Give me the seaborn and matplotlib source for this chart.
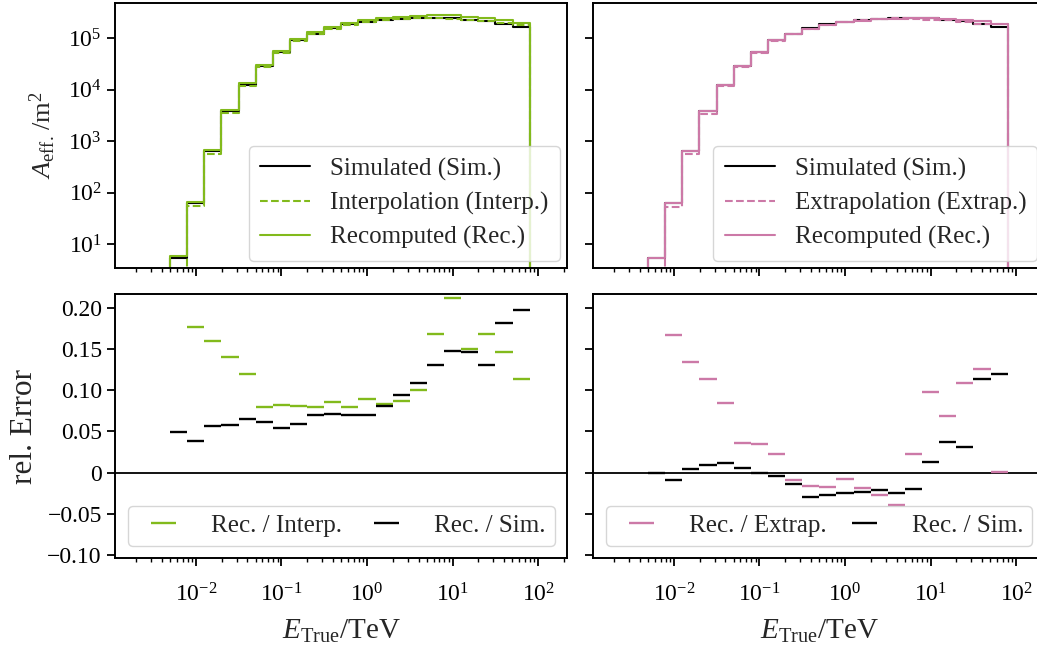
import numpy as np
import matplotlib
matplotlib.use("Agg")
import matplotlib.pyplot as plt
from matplotlib.lines import Line2D
from matplotlib.ticker import LogLocator, NullLocator, NullFormatter, FixedLocator, FixedFormatter
import seaborn as sns

# ---------------------------------------------------------------------------
# Binning in true energy (TeV), five bins per decade
# ---------------------------------------------------------------------------
log_e_min, log_e_max, n_bins = -2.3, 1.9, 21
edges = np.logspace(log_e_min, log_e_max, n_bins + 1)

# ---------------------------------------------------------------------------
# Effective area per bin (m^2)
# ---------------------------------------------------------------------------
aeff_sim = [5.53, 63.6, 635, 3812, 12490, 28460, 54440, 91550, 122500, 156900,
            187000, 212100, 226800, 240500, 245300, 251200, 247600, 229500,
            222000, 192100, 167100]
aeff_interp = [np.nan, 56.1, 579, 3535, 11875, 27960, 53075, 89640, 121400,
               154800, 185300, 208500, 226300, 242000, 247100, 243200, 234300,
               228700, 214900, 198100, 179600]
aeff_rec_interp = [5.8, 66, 671, 4030, 13300, 30200, 57400, 96900, 131000,
                   168000, 200000, 227000, 245000, 263000, 272000, 284000,
                   284000, 263000, 251000, 227000, 200000]
aeff_extrap = [np.nan, 54.05, 562.6, 3456, 11656, 27635, 52590, 89180, 121860,
               154840, 185215, 208360, 225760, 241810, 249260, 240730, 228320,
               222630, 206480, 190020, 186820]
aeff_rec_extrap = [5.53, 63.06, 638, 3847, 12640, 28610, 54420, 91170, 120760,
                   152320, 181900, 206840, 221450, 235330, 239340, 246100,
                   250720, 237970, 228840, 213850, 187040]

# ---------------------------------------------------------------------------
# Relative errors per bin
# ---------------------------------------------------------------------------
err_rec_interp = [np.nan, 0.177, 0.159, 0.140, 0.120, 0.080, 0.0815, 0.081,
                  0.079, 0.085, 0.0795, 0.0888, 0.0827, 0.0868, 0.1006, 0.168,
                  0.212, 0.150, 0.168, 0.146, 0.1136]
err_rec_sim_interp = [0.0487, 0.038, 0.0564, 0.0572, 0.0649, 0.0612, 0.0543,
                      0.0584, 0.0694, 0.071, 0.0694, 0.0701, 0.0803, 0.0937,
                      0.109, 0.1306, 0.147, 0.146, 0.1306, 0.1817, 0.1967]
err_rec_extrap = [np.nan, 0.1667, 0.134, 0.113, 0.0844, 0.0353, 0.0348, 0.0223,
                  -0.009, -0.0163, -0.0179, -0.0073, -0.0191, -0.0268, -0.0398,
                  0.0223, 0.0981, 0.0689, 0.1083, 0.1254, 0.0012]
err_rec_sim_extrap = [0.0, -0.0085, 0.0049, 0.0093, 0.0122, 0.0053, -0.0004,
                      -0.0041, -0.0142, -0.0292, -0.0272, -0.0248, -0.0236,
                      -0.0215, -0.0243, -0.0203, 0.0126, 0.0369, 0.0308, 0.1132,
                      0.1193]

err_ticks = [-0.10, -0.05, 0.0, 0.05, 0.10, 0.15, 0.20]
err_tick_labels = ["\u22120.10", "\u22120.05", "0", "0.05", "0.10", "0.15", "0.20"]

GREEN = "#82ba1c"
PINK = "#cc79a7"
BLACK = "black"

# ---------------------------------------------------------------------------
# Style
# ---------------------------------------------------------------------------
sns.set_theme(style="ticks")
plt.rcParams.update({
    "font.family": ["Liberation Serif", "DejaVu Serif"],
    "mathtext.fontset": "custom",
    "mathtext.rm": "Liberation Serif",
    "mathtext.it": "Liberation Serif:italic",
    "mathtext.bf": "Liberation Serif:bold",
    "axes.edgecolor": "black",
    "axes.linewidth": 1.4,
    "xtick.color": "black",
    "ytick.color": "black",
    "xtick.major.width": 1.3,
    "ytick.major.width": 1.3,
    "xtick.minor.width": 1.0,
    "xtick.major.size": 6,
    "ytick.major.size": 6,
    "xtick.minor.size": 3.2,
    "xtick.labelsize": 17,
    "ytick.labelsize": 17,
    "axes.labelsize": 21,
    "legend.fontsize": 18,
})

fig = plt.figure(figsize=(10.37, 6.46), dpi=100)
W, H = 1037.0, 646.0


def px_axes(x0, y0, x1, y1):
    return fig.add_axes([x0 / W, 1 - y1 / H, (x1 - x0) / W, (y1 - y0) / H])


# the right-hand column runs on past the right edge of the canvas
ax_tl = px_axes(115, 2.7, 567, 268)
ax_bl = px_axes(115, 294, 567, 558.3)
ax_tr = px_axes(593, 2.7, 1045, 268)
ax_br = px_axes(593, 294, 1045, 558.3)

lo, hi = edges[:-1], edges[1:]
centers = np.sqrt(lo * hi)
floor = 1e-2  # outline drops below the visible range at the histogram ends


def draw_steps(ax, values, color, ls):
    v = np.asarray(values, dtype=float)
    ok = ~np.isnan(v)
    e_lo, e_hi, v = lo[ok], hi[ok], v[ok]
    xs = np.concatenate([[e_lo[0]], np.column_stack([e_lo, e_hi]).ravel(), [e_hi[-1]]])
    ys = np.concatenate([[floor], np.repeat(v, 2), [floor]])
    sns.lineplot(x=xs, y=ys, ax=ax, estimator=None, sort=False, color=color,
                 linestyle=ls, linewidth=1.5, legend=False)


def draw_errors(ax, values, color, label):
    v = np.asarray(values, dtype=float)
    ok = ~np.isnan(v)
    ax.errorbar(centers[ok], v[ok], xerr=[centers[ok] - lo[ok], hi[ok] - centers[ok]],
                fmt="none", ecolor=color, elinewidth=1.7, capsize=0, label=label)


panels = [
    (ax_tl, ax_bl, aeff_interp, aeff_rec_interp, err_rec_interp, err_rec_sim_interp,
     GREEN, "Interpolation (Interp.)", "Rec. / Interp."),
    (ax_tr, ax_br, aeff_extrap, aeff_rec_extrap, err_rec_extrap, err_rec_sim_extrap,
     PINK, "Extrapolation (Extrap.)", "Rec. / Extrap."),
]

for i, (ax_t, ax_b, a_alt, a_rec, e_alt, e_sim, col, alt_lab, err_lab) in enumerate(panels):
    for ax in (ax_t, ax_b):
        ax.set_xscale("log")
        ax.set_xlim(10 ** -2.944, 10 ** 2.336)
    ax_t.set_yscale("log")

    # effective areas
    draw_steps(ax_t, aeff_sim, BLACK, "-")
    draw_steps(ax_t, a_alt, col, "--")
    draw_steps(ax_t, a_rec, col, "-")
    ax_t.set_ylim(3.46, 4.93e5)
    ax_t.yaxis.set_minor_locator(NullLocator())
    ax_t.set_xlabel("")
    handles = [Line2D([], [], color=BLACK, lw=1.5, ls="-"),
               Line2D([], [], color=col, lw=1.5, ls="--"),
               Line2D([], [], color=col, lw=1.5, ls="-")]
    ax_t.legend(handles, ["Simulated (Sim.)", alt_lab, "Recomputed (Rec.)"],
                loc="lower right", labelspacing=0.45, handlelength=2.0,
                handletextpad=0.8, borderpad=0.45, borderaxespad=0.3)

    # relative errors
    draw_errors(ax_b, e_alt, col, err_lab)
    draw_errors(ax_b, e_sim, BLACK, "Rec. / Sim.")
    ax_b.axhline(0, color=BLACK, lw=1.3, zorder=1)
    ax_b.set_ylim(-0.104, 0.2166)
    ax_b.yaxis.set_major_locator(FixedLocator(err_ticks))
    ax_b.legend(loc="lower left", bbox_to_anchor=(0, 0, 1, 1), mode="expand",
                ncol=2, handlelength=2.2, handletextpad=0.8, borderpad=0.35,
                borderaxespad=0.5)

    for ax in (ax_t, ax_b):
        ax.xaxis.set_major_locator(LogLocator(base=10, numticks=12))
        ax.xaxis.set_minor_locator(LogLocator(base=10, subs=np.arange(2, 10), numticks=12))
        ax.xaxis.set_minor_formatter(NullFormatter())
        ax.tick_params(which="both", direction="out", top=False, right=False)
    ax_t.tick_params(axis="x", which="both", labelbottom=False)
    ax_b.tick_params(axis="x", which="major", pad=12)

    ax_b.set_xlabel(r"$E_{\mathrm{True}}/\mathrm{TeV}$", labelpad=8)
    if i == 0:
        ax_t.set_ylabel(r"$A_{\mathrm{eff.}}\,/\mathrm{m}^2$", fontsize=19, labelpad=7)
        ax_b.set_ylabel("rel. Error", fontsize=22.5, labelpad=6)
        ax_b.yaxis.set_major_formatter(FixedFormatter(err_tick_labels))
    else:
        ax_t.tick_params(axis="y", labelleft=False)
        ax_b.tick_params(axis="y", labelleft=False)
        ax_t.set_ylabel("")
        ax_b.set_ylabel("")

fig.savefig("out.png", dpi=100)
